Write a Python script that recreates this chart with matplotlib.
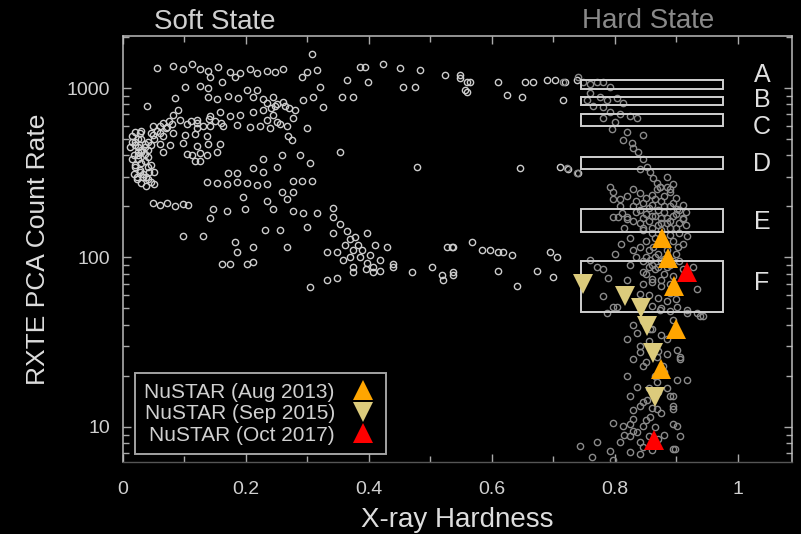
import matplotlib
matplotlib.use("Agg")
import matplotlib.pyplot as plt
from matplotlib.patches import Rectangle
from matplotlib.ticker import MultipleLocator, LogLocator, NullFormatter

plt.rcParams['font.family'] = ['Liberation Sans', 'DejaVu Sans']

# ---------------- data ----------------
soft_hardness = [
    0.307, 0.055, 0.081, 0.098, 0.112, 0.125, 0.138, 0.154,
    0.174, 0.190, 0.207, 0.218, 0.234, 0.247, 0.260, 0.315, 0.320, 0.291, 0.299,
    0.364, 0.398, 0.385, 0.393, 0.423, 0.450, 0.483, 0.455, 0.475, 0.356, 0.374, 0.325,
    0.548, 0.559, 0.556, 0.101, 0.125, 0.138, 0.161, 0.141, 0.182,
    0.085, 0.138, 0.153, 0.171, 0.187, 0.211, 0.228, 0.244, 0.202, 0.218,
    0.039, 0.089, 0.081, 0.093, 0.120, 0.141, 0.158, 0.174, 0.190, 0.211, 0.228, 0.247, 0.263, 0.280, 0.293, 0.309,
    0.244, 0.250, 0.234, 0.049, 0.072, 0.104, 0.120, 0.141, 0.163, 0.185, 0.207, 0.223, 0.239, 0.255, 0.267,
    0.276, 0.299, 0.268, 0.275, 0.028, 0.049, 0.065, 0.081, 0.101, 0.117, 0.137,
    0.060, 0.076, 0.098, 0.120, 0.138, 0.158, 0.065, 0.104, 0.112, 0.125, 0.137, 0.153, 0.117, 0.125,
    0.353, 0.259, 0.288, 0.228, 0.250, 0.211, 0.228, 0.304, 0.478,
    0.137, 0.153, 0.169, 0.185, 0.202, 0.218, 0.234, 0.276, 0.291, 0.307, 0.171, 0.185,
    0.195, 0.259, 0.267, 0.276, 0.049, 0.060, 0.072, 0.085, 0.098, 0.106,
    0.146, 0.169, 0.198, 0.234, 0.244, 0.276, 0.293, 0.315, 0.141, 0.255, 0.231, 0.299, 0.341,
    0.098, 0.130, 0.182, 0.211, 0.185, 0.267, 0.332, 0.161, 0.174, 0.202, 0.211,
    0.341, 0.353, 0.364, 0.369, 0.374, 0.385, 0.397, 0.407, 0.374, 0.358, 0.348, 0.418, 0.429, 0.439, 0.397, 0.341, 0.382,
    0.361, 0.389, 0.402, 0.377, 0.410, 0.369, 0.395, 0.418,
    0.470, 0.502, 0.519, 0.537, 0.535, 0.304, 0.332, 0.348, 0.374, 0.407, 0.439,
    0.015, 0.020, 0.025, 0.030, 0.035, 0.040, 0.018, 0.025, 0.030, 0.035, 0.020, 0.028,
    0.033, 0.040, 0.045, 0.022, 0.030, 0.038, 0.050, 0.012, 0.045, 0.050, 0.040, 0.045,
    0.050, 0.055, 0.060, 0.065, 0.070, 0.075, 0.080, 0.060, 0.020, 0.030, 0.025,
    0.015, 0.020, 0.025, 0.030, 0.035, 0.040, 0.045, 0.015, 0.020, 0.025, 0.030, 0.035, 0.040,
    0.018, 0.023, 0.028, 0.033, 0.038, 0.043,
    0.110, 0.120, 0.130, 0.140, 0.150, 0.160, 0.235, 0.250, 0.260, 0.270, 0.240,
    0.548, 0.564, 0.610, 0.654, 0.667, 0.689, 0.702, 0.719, 0.738, 0.559, 0.624, 0.649, 0.715, 0.524,
    0.646, 0.711, 0.724, 0.740, 0.527, 0.537, 0.567, 0.584, 0.597, 0.610, 0.618, 0.633, 0.694, 0.706,
    0.520, 0.537, 0.610, 0.641, 0.673, 0.699,
]
soft_rate = [
    1580, 1320, 1350, 1290, 1380, 1300, 1260, 1340,
    1250, 1230, 1290, 1220, 1270, 1240, 1300, 1285, 1010, 1170, 1250,
    1120, 1090, 1340, 1340, 1380, 1320, 1285, 1020, 1010, 880, 880, 770,
    1200, 1090, 980, 1020, 1030, 1000, 1090, 1170, 1170,
    870, 890, 860, 900, 870, 880, 860, 890, 980, 980,
    780, 747, 698, 652, 652, 680, 720, 680, 698, 720, 747, 780, 780, 747, 855, 885,
    698, 630, 652, 600, 590, 610, 585, 600, 595, 605, 590, 600, 585, 610, 595,
    670, 585, 520, 497, 545, 530, 520, 540, 525, 535, 520,
    470, 460, 475, 455, 465, 470, 420, 410, 400, 415, 405, 420, 369, 369,
    422, 405, 405, 379, 344, 339, 321, 363, 344,
    280, 275, 270, 280, 276, 268, 272, 281, 281, 281, 317, 317,
    229, 242, 220, 245, 210, 205, 211, 200, 208, 204,
    192, 187, 192, 214, 192, 187, 184, 184, 172, 146, 146, 152, 197,
    133, 133, 123, 116, 107, 116, 107, 91, 91, 91, 94,
    174, 157, 143, 128, 111, 101, 93, 88, 88, 97, 107, 97, 115, 88, 140, 140, 119,
    119, 111, 104, 132, 119, 100, 85, 83,
    82, 88, 79, 82, 116, 67, 74, 76, 82, 82, 91,
    520, 480, 450, 500, 470, 430, 400, 380, 360, 410, 340, 320,
    300, 290, 280, 300, 275, 265, 270, 450, 350, 320, 390, 540,
    500, 560, 600, 620, 580, 640, 610, 540, 550, 560, 420,
    480, 460, 500, 430, 450, 480, 460, 380, 350, 400, 420, 370, 340,
    310, 290, 330, 310, 300, 320,
    640, 620, 600, 660, 640, 620, 820, 800, 830, 760, 760,
    1150, 1090, 1090, 1090, 1090, 1120, 1120, 1090, 1120, 950, 916, 890, 855, 1200,
    339, 344, 331, 316, 116, 116, 124, 111, 111, 108, 107, 104, 107, 100,
    74, 79, 83, 68, 83, 77,
]

hard_hardness = [
    0.715, 0.740, 0.748, 0.759, 0.771, 0.780, 0.792, 0.759, 0.776, 0.787, 0.754, 0.803, 0.813,
    0.764, 0.780, 0.792, 0.808, 0.824, 0.836, 0.780, 0.800, 0.795, 0.820, 0.846, 0.813, 0.828,
    0.829, 0.837, 0.846, 0.852, 0.841, 0.857, 0.862, 0.868, 0.873, 0.885, 0.792, 0.722, 0.738,
    0.797, 0.808, 0.811, 0.820, 0.797, 0.829, 0.868, 0.889, 0.894, 0.885,
    0.797, 0.808, 0.805, 0.820, 0.759, 0.771, 0.780, 0.789, 0.820, 0.780, 0.797, 0.841, 0.846, 0.857,
    0.862, 0.902, 0.917, 0.911, 0.901, 0.889, 0.873, 0.927, 0.933, 0.933, 0.917, 0.901, 0.873, 0.943,
    0.83, 0.845, 0.86, 0.875, 0.89, 0.905, 0.835, 0.85, 0.865, 0.88, 0.895, 0.91,
    0.84, 0.855, 0.87, 0.885, 0.9, 0.915, 0.845, 0.86, 0.875, 0.89, 0.905,
    0.85, 0.865, 0.88, 0.895, 0.91, 0.84, 0.855, 0.87, 0.885, 0.9,
    0.845, 0.86, 0.875, 0.89, 0.905, 0.85, 0.865, 0.88, 0.895, 0.91,
    0.845, 0.86, 0.875, 0.89, 0.855, 0.87, 0.885, 0.9, 0.86, 0.875, 0.89,
    0.82, 0.84, 0.86, 0.88, 0.9, 0.815, 0.825, 0.83, 0.835, 0.825, 0.81, 0.8,
    0.835, 0.85, 0.865, 0.88, 0.895, 0.91, 0.84, 0.855, 0.87, 0.885, 0.9, 0.915,
    0.83, 0.845, 0.86, 0.875, 0.89, 0.905, 0.845, 0.86, 0.875, 0.89,
    0.85, 0.865, 0.88, 0.895, 0.855, 0.87, 0.885, 0.86, 0.875, 0.89,
    0.820, 0.841, 0.846, 0.836, 0.824, 0.841, 0.852, 0.889, 0.894, 0.901, 0.917, 0.906, 0.901, 0.885,
    0.894, 0.917, 0.938, 0.797, 0.813, 0.829, 0.846, 0.824, 0.808, 0.841, 0.824, 0.841,
    0.901, 0.906, 0.894, 0.743, 0.771, 0.792, 0.836, 0.857, 0.868, 0.803, 0.787, 0.836, 0.857,
    0.878, 0.868, 0.763, 0.797, 0.824, 0.894, 0.898, 0.894, 0.868, 0.906, 0.894,
    0.83, 0.845, 0.86, 0.875, 0.84, 0.855, 0.87, 0.885, 0.85, 0.865, 0.88, 0.855, 0.87, 0.885, 0.845,
    0.86, 0.875, 0.83, 0.85, 0.865, 0.815, 0.83, 0.855, 0.87, 0.845, 0.86, 0.88, 0.82, 0.83,
]
hard_rate = [
    1090, 1170, 1080, 1050, 1090, 1080, 1020, 940, 890, 855, 855, 870, 820,
    780, 770, 720, 700, 680, 670, 670, 630, 570, 550, 532, 497, 477,
    445, 417, 379, 344, 331, 321, 296, 277, 259, 259, 262, 339, 316,
    242, 220, 184, 174, 174, 252, 252, 252, 270, 300,
    220, 200, 174, 168, 97, 88, 85, 76, 74, 59, 51, 60.5, 82, 97,
    116, 116, 133, 168, 192, 242, 262, 88, 65, 47, 49, 51, 49, 45,
    200, 210, 205, 215, 200, 190, 185, 180, 175, 185, 175, 170,
    160, 165, 155, 160, 150, 155, 145, 140, 145, 135, 140,
    125, 130, 120, 125, 120, 115, 110, 105, 110, 105,
    95, 90, 95, 90, 95, 80, 85, 80, 78, 85,
    70, 72, 68, 62, 60, 58, 55, 57, 52, 50, 48,
    230, 240, 235, 230, 225, 150, 130, 110, 100, 90, 120, 105,
    215, 225, 220, 200, 210, 205, 190, 195, 190, 170, 180, 185,
    165, 170, 175, 170, 165, 160, 150, 150, 160, 150,
    100, 100, 98, 95, 88, 88, 88, 75, 74, 70,
    33, 27.5, 22.8, 17.3, 15.2, 13.2, 14.5, 15.2, 13.2, 19, 19, 25, 28.6, 32.8,
    43, 47, 45, 10.6, 10.1, 11.1, 10.1, 8.8, 8.1, 8.1, 7.1, 6.9,
    10.1, 8.8, 7.4, 7.7, 8.1, 7.2, 9.3, 11.5, 12.7, 51, 47, 36, 37.6,
    22.8, 18.3, 6.6, 6.4, 10.4, 10.4, 7.4, 15.2, 26, 26, 12.7,
    40, 42, 38, 35, 30, 32, 28, 27, 24, 20, 21, 17, 16, 17, 14,
    13, 12, 12.5, 11, 10, 9, 9.5, 8.8, 8.5, 7.6, 7.3, 9, 20, 25,
]

# NuSTAR observations
aug2013_hardness = [0.876, 0.886, 0.896, 0.899, 0.875]
aug2013_rate = [131, 98.6, 67.4, 37.6, 22.1]
sep2015_hardness = [0.748, 0.816, 0.842, 0.852, 0.862, 0.865]
sep2015_rate = [69.3, 58.9, 50.0, 39.2, 27.2, 15.1]
oct2017_hardness = [0.917, 0.863]
oct2017_rate = [81.6, 8.4]

# Count-rate boxes A-F
box_labels = ['A', 'B', 'C', 'D', 'E', 'F']
box_low = [985, 795, 596, 335, 141, 47.5]
box_high = [1110, 890, 703, 390, 193, 95]
box_label_rate = [1202, 855, 592, 354, 163, 71]
box_hardness_range = [0.745, 0.975]

x_ticks = [0, 0.2, 0.4, 0.6, 0.8, 1.0]
x_ticklabels = ['0', '0.2', '0.4', '0.6', '0.8', '1']
y_ticks = [10, 100, 1000]
y_ticklabels = ['10', '100', '1000']

# ---------------- figure ----------------
W, H = 801, 534
fig = plt.figure(figsize=(W / 100, H / 100), dpi=100, facecolor='black')
ax = fig.add_axes([123 / W, 1 - 462 / H, (792 - 123) / W, (462 - 36) / H])
ax.set_facecolor('black')
ax.set_yscale('log')
ax.set_xlim(0, 1.088)
ax.set_ylim(6.2, 2030)

ax.plot(soft_hardness, soft_rate, linestyle='none', marker='o', markersize=4.5,
        markerfacecolor='none', markeredgecolor='#cccccc', markeredgewidth=1.0, zorder=2)
ax.plot(hard_hardness, hard_rate, linestyle='none', marker='o', markersize=4.5,
        markerfacecolor='none', markeredgecolor='#8a8a8a', markeredgewidth=1.0, zorder=2)

for lab, lo, hi, ly in zip(box_labels, box_low, box_high, box_label_rate):
    ax.add_patch(Rectangle((box_hardness_range[0], lo),
                           box_hardness_range[1] - box_hardness_range[0], hi - lo,
                           fill=False, edgecolor='#d0d0d0', linewidth=1.4, zorder=3))
    ax.text(1.039, ly, lab, color='#e0e0e0', fontsize=18, ha='center', va='center', zorder=4)

ax.plot(aug2013_hardness, aug2013_rate, linestyle='none', marker='^', markersize=14,
        color='#ffa500', markeredgewidth=0, zorder=5, label='NuSTAR (Aug 2013)')
ax.plot(sep2015_hardness, sep2015_rate, linestyle='none', marker='v', markersize=14,
        color='#dccb7c', markeredgewidth=0, zorder=5, label='NuSTAR (Sep 2015)')
ax.plot(oct2017_hardness, oct2017_rate, linestyle='none', marker='^', markersize=14,
        color='#ff0000', markeredgewidth=0, zorder=6, label='NuSTAR (Oct 2017)')

# axes styling
for side in ['left', 'top', 'right']:
    ax.spines[side].set_color('#bbbbbb')
    ax.spines[side].set_linewidth(1.1)
ax.spines['bottom'].set_color('#555555')
ax.spines['bottom'].set_linewidth(1.0)

ax.set_xticks(x_ticks)
ax.set_xticklabels(x_ticklabels)
ax.xaxis.set_minor_locator(MultipleLocator(0.1))
ax.set_yticks(y_ticks)
ax.set_yticklabels(y_ticklabels)
ax.yaxis.set_minor_locator(LogLocator(base=10, subs=range(2, 10)))
ax.yaxis.set_minor_formatter(NullFormatter())
ax.tick_params(which='both', direction='in', top=True, right=True, colors='#aaaaaa',
               labelcolor='#d0d0d0', labelsize=14)
ax.tick_params(which='major', length=6, width=1)
ax.tick_params(which='minor', length=4, width=1)
ax.tick_params(axis='x', pad=14)
ax.tick_params(axis='y', pad=9)

ax.set_xlabel('X-ray Hardness', color='#dddddd', fontsize=20, labelpad=6)
ax.set_ylabel('RXTE PCA Count Rate', color='#dddddd', fontsize=19, labelpad=12)

fig.text(215 / W, 1 - 22 / H, 'Soft State', color='#d0d0d0', fontsize=20, ha='center', va='center')
fig.text(648 / W, 1 - 21 / H, 'Hard State', color='#8a8a8a', fontsize=20, ha='center', va='center')

leg = ax.legend(loc='lower left', bbox_to_anchor=(0.018, 0.019), borderaxespad=0,
                markerfirst=False, fontsize=15, frameon=True, fancybox=False,
                facecolor='black', edgecolor='#cccccc', labelcolor='#d0d0d0',
                handlelength=1.3, handletextpad=0.7, labelspacing=0.12, borderpad=0.45,
                numpoints=1)
leg.get_frame().set_linewidth(1.4)
leg.set_zorder(10)

fig.savefig('out.png', dpi=100, facecolor='black')
